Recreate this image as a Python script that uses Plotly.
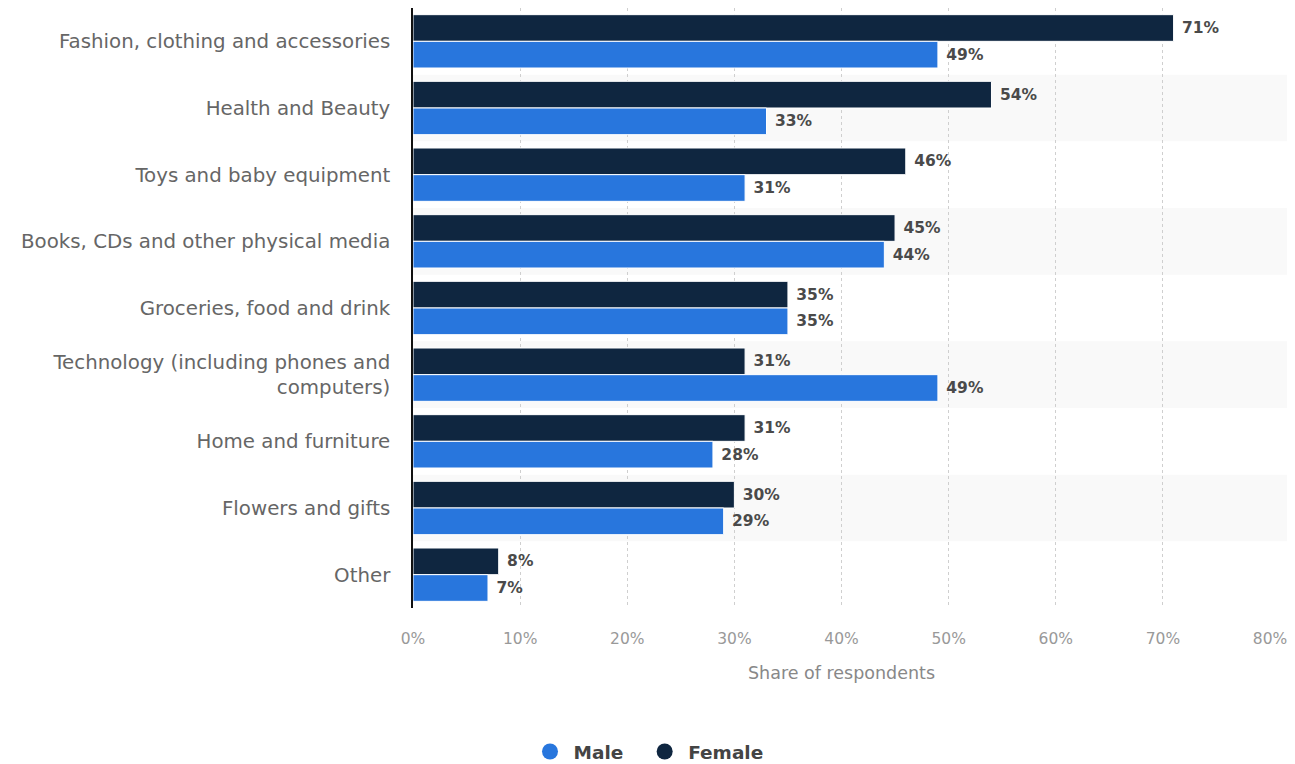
import plotly.graph_objects as go

categories = [
    "Fashion, clothing and accessories",
    "Health and Beauty",
    "Toys and baby equipment",
    "Books, CDs and other physical media",
    "Groceries, food and drink",
    "Technology (including phones and<br>computers)",
    "Home and furniture",
    "Flowers and gifts",
    "Other",
]
female = [71, 54, 46, 45, 35, 31, 31, 30, 8]
male = [49, 33, 31, 44, 35, 49, 28, 29, 7]

FEMALE_COLOR = "#0f2640"
MALE_COLOR = "#2876dd"
FONT = "DejaVu Sans"
value_font = dict(family=FONT, size=15.5, color="#4a4a4a", weight="bold")

fig = go.Figure()

# Female first so it sits on top within each group (y axis is reversed)
fig.add_trace(go.Bar(
    y=categories, x=female, orientation="h", name="Female",
    marker=dict(color=FEMALE_COLOR, line=dict(color="white", width=1)),
    text=[f" {v}%" for v in female], textposition="outside",
    textfont=value_font, cliponaxis=False, showlegend=False,
))
fig.add_trace(go.Bar(
    y=categories, x=male, orientation="h", name="Male",
    marker=dict(color=MALE_COLOR, line=dict(color="white", width=1)),
    text=[f" {v}%" for v in male], textposition="outside",
    textfont=value_font, cliponaxis=False, showlegend=False,
))

# Round legend markers (non-breaking spaces widen the gap between entries)
for name, color in [("Male\u00a0\u00a0", MALE_COLOR), ("Female", FEMALE_COLOR)]:
    fig.add_trace(go.Scatter(
        x=[None], y=[None], mode="markers", name=name,
        marker=dict(symbol="circle", size=21, color=color),
    ))

# Light zebra striping behind every other category
shapes = []
for i in range(1, len(categories), 2):
    shapes.append(dict(
        type="rect", xref="paper", yref="y", layer="below",
        x0=0, x1=1.02, y0=i - 0.5, y1=i + 0.5,
        fillcolor="#f9f9f9", line=dict(width=0),
    ))

fig.update_layout(
    width=1295, height=764,
    margin=dict(l=413, r=22, t=8, b=156),
    paper_bgcolor="white", plot_bgcolor="white",
    barmode="group", bargap=0.2, bargroupgap=0,
    shapes=shapes,
    font=dict(family=FONT),
    legend=dict(
        orientation="h", xref="container", yref="container",
        x=0.5, xanchor="center", y=12 / 764, yanchor="middle",
        itemwidth=37,
        font=dict(family=FONT, size=18.5, color="#444444", weight="bold"),
    ),
    xaxis=dict(
        range=[0, 80], dtick=10, ticksuffix="%",
        showgrid=True, gridcolor="#cfcfcf", griddash="dot", gridwidth=1,
        zeroline=False, showline=False,
        ticks="outside", ticklen=16, tickcolor="rgba(0,0,0,0)",
        tickfont=dict(family=FONT, size=15.5, color="#999999"),
        title=dict(text="Share of respondents", standoff=20,
                   font=dict(family=FONT, size=17.5, color="#888888")),
    ),
    yaxis=dict(
        autorange="reversed",
        showline=True, linecolor="#111111", linewidth=1.5,
        ticks="outside", ticklen=17, tickcolor="rgba(0,0,0,0)",
        tickfont=dict(family=FONT, size=19.8, color="#666666"),
        showgrid=False,
    ),
)

fig.write_html("out.html")
